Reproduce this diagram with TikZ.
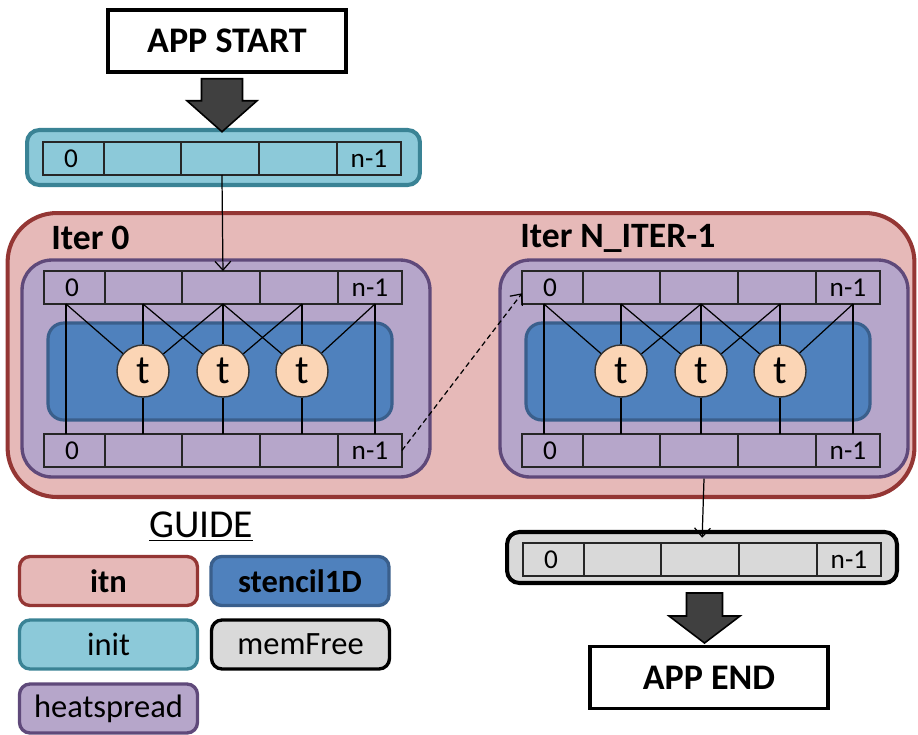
\documentclass[tikz,border=0pt]{standalone}
\usepackage{fontspec}
\setmainfont{Carlito}
\usetikzlibrary{calc,arrows.meta}

\definecolor{itnfill}{HTML}{E6B9B8}
\definecolor{itnline}{HTML}{943634}
\definecolor{initfill}{HTML}{8CC9D9}
\definecolor{initline}{HTML}{3A8395}
\definecolor{heatfill}{HTML}{B6A6CA}
\definecolor{heatline}{HTML}{5F497A}
\definecolor{stenfill}{HTML}{4F81BD}
\definecolor{stenline}{HTML}{3A5F8C}
\definecolor{freefill}{HTML}{D9D9D9}
\definecolor{thrfill}{HTML}{FBD5B5}
\definecolor{blockgray}{HTML}{404040}

\tikzset{
  rowbox/.style={draw=black!85, line width=0.8pt, rectangle, inner sep=0pt, outer sep=0pt,
    minimum width=7.16cm, minimum height=0.66cm},
  cellline/.style={draw=black!85, line width=0.8pt},
  lbl/.style={font=\fontsize{15.5}{18}\selectfont, inner sep=0pt},
  wire/.style={draw=black, line width=0.7pt},
  thread/.style={circle, draw=black!80, line width=0.8pt, fill=thrfill, minimum size=1.04cm,
    inner sep=0pt, font=\fontsize{23}{26}\selectfont},
  heatbox/.style={draw=heatline, fill=heatfill, line width=1.9pt, rounded corners=17pt,
    minimum width=8.16cm, minimum height=4.34cm, inner sep=0pt},
  stenbox/.style={draw=stenline, fill=stenfill, line width=1.8pt, rounded corners=9pt,
    minimum width=6.88cm, minimum height=1.94cm, inner sep=0pt},
  appbox/.style={draw=black, line width=2pt, fill=white, minimum width=4.76cm,
    minimum height=1.24cm, inner sep=0pt, font=\fontsize{20.5}{24}\selectfont\bfseries},
  legend/.style={rounded corners=6pt, line width=1.9pt, minimum width=3.56cm,
    minimum height=0.98cm, inner sep=0pt, font=\fontsize{18.5}{22}\selectfont},
  iterlbl/.style={anchor=west, inner sep=0pt, font=\fontsize{20.3}{24}\selectfont\bfseries},
  flow/.style={wire, -{Straight Barb[length=5pt,width=9pt]}},
  blockarrow/.style={fill=blockgray, draw=black, line width=0.9pt, line join=miter},
}

% five-cell buffer row: name, left x, top y, fill colour
\newcommand\bufrow[4]{%
  \node[rowbox, fill=#4, anchor=north west] (#1) at (#2,#3) {};
  \foreach \d in {61,138,216,294}
    \draw[cellline] ($(#1.north west)+(\d,0)$) -- ($(#1.south west)+(\d,0)$);
  \node[lbl] (#1-0) at ($(#1.west)+(28,0)$) {0};
  \node[lbl] (#1-n) at ($(#1.east)+(-32,0)$) {n-1};
}

% one heatspread iteration with its stencil1D kernel: prefix, left x of the rows
\newcommand\heatblock[2]{%
  \node[heatbox] (#1-heat) at (#2+182,368.5) {};
  \node[stenbox] (#1-sten) at (#2+176,371.5) {};
  \bufrow{#1-top}{#2}{271}{heatfill}
  \bufrow{#1-bot}{#2}{434}{heatfill}
  \foreach \k/\dx in {1/22,2/99,3/179,4/258,5/331} {
    \coordinate (#1-a\k) at ($(#1-top.south west)+(\dx,0)$);
    \coordinate (#1-b\k) at ($(#1-bot.north west)+(\dx,0)$);
  }
  \node[thread] (#1-t1) at ($(#1-top.south west)+(99,67)$) {t};
  \node[thread] (#1-t2) at ($(#1-top.south west)+(179,67)$) {t};
  \node[thread] (#1-t3) at ($(#1-top.south west)+(258,67)$) {t};
  \draw[wire] (#1-a1) -- (#1-b1);
  \draw[wire] (#1-a5) -- (#1-b5);
  \draw[wire] (#1-a1) -- (#1-t1);
  \draw[wire] (#1-a2) -- (#1-t1);
  \draw[wire] (#1-a3) -- (#1-t1);
  \draw[wire] (#1-t1) -- (#1-b2);
  \draw[wire] (#1-a2) -- (#1-t2);
  \draw[wire] (#1-a3) -- (#1-t2);
  \draw[wire] (#1-a4) -- (#1-t2);
  \draw[wire] (#1-t2) -- (#1-b3);
  \draw[wire] (#1-a3) -- (#1-t3);
  \draw[wire] (#1-a4) -- (#1-t3);
  \draw[wire] (#1-a5) -- (#1-t3);
  \draw[wire] (#1-t3) -- (#1-b4);
}

\begin{document}
\begin{tikzpicture}[x=0.02cm, y=-0.02cm]
  \useasboundingbox (0,0) rectangle (918,734);

  % start of the application and the init buffer
  \node[appbox] (start) at (227,41) {APP START};
  \node[draw=initline, fill=initfill, line width=2.3pt, rounded corners=7pt,
        minimum width=7.86cm, minimum height=1.1cm, inner sep=0pt] (init) at (223.5,157.5) {};
  \bufrow{initrow}{43}{142}{initfill}
  \coordinate (sa) at ($(start.south)+(-5,5)$);
  \draw[blockarrow] ($(sa)+(-20.5,0)$) -- ++(41,0) -- ++(0,22) -- ++(14.5,0)
    -- ($(sa)+(0,53)$) -- ($(sa)+(-35,22)$) -- ++(14.5,0) -- cycle;

  % itn: the iteration loop
  \node[draw=itnline, fill=itnfill, line width=2.3pt, rounded corners=28pt,
        minimum width=18.14cm, minimum height=5.68cm, inner sep=0pt] (itn) at (461,355) {};
  \node[iterlbl] (it0) at (51,238) {Iter 0};
  \node[iterlbl] (itN) at (520,238) {Iter N\_ITER-1};
  \heatblock{L}{44}
  \heatblock{R}{522}

  \draw[flow] (initrow.south) -- (L-top.north);
  \draw[flow, dashed, dash pattern=on 3pt off 2pt] (L-bot.east) -- ($(R-top.west)!0.35!(R-top.south west)$);

  % memFree buffer and end of the application
  \node[draw=black, fill=freefill, line width=2.3pt, rounded corners=7pt,
        minimum width=7.8cm, minimum height=1.02cm, inner sep=0pt] (free) at (702,557.5) {};
  \bufrow{freerow}{523}{543}{freefill}
  \draw[flow, shorten >=3pt] (R-heat.south) -- (freerow.north);
  \node[appbox] (finish) at (709,677.5) {APP END};
  \coordinate (ea) at ($(free.south)+(2.5,8)$);
  \draw[blockarrow] ($(ea)+(-18,0)$) -- ++(36,0) -- ++(0,23) -- ++(17.5,0)
    -- ($(ea)+(0,50)$) -- ($(ea)+(-35.5,23)$) -- ++(17.5,0) -- cycle;

  % guide
  \node[inner sep=0pt, font=\fontsize{22.5}{26}\selectfont] (guide) at (201,527) {\underline{GUIDE}};
  \node[legend, draw=itnline, fill=itnfill] (g-itn) at (108.5,581) {\bfseries itn};
  \node[legend, draw=stenline, fill=stenfill] (g-sten) at (300,581) {\bfseries stencil1D};
  \node[legend, draw=initline, fill=initfill] (g-init) at (108.5,644.5) {init};
  \node[legend, draw=black, fill=freefill] (g-free) at (300.5,644.5) {memFree};
  \node[legend, draw=heatline, fill=heatfill] (g-heat) at (108.5,708.5) {heatspread};
\end{tikzpicture}
\end{document}
